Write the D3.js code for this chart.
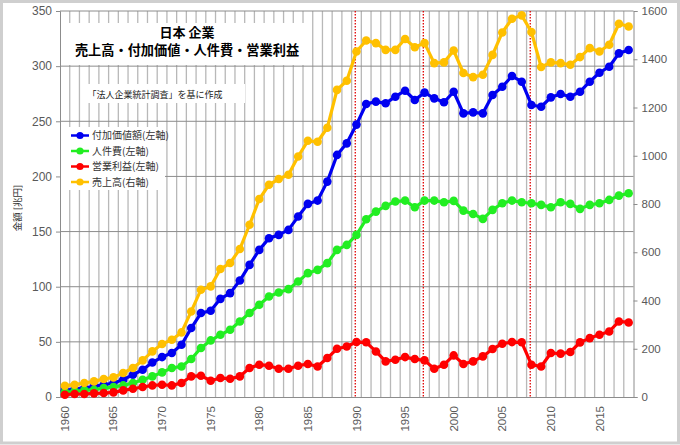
<!DOCTYPE html>
<html><head><meta charset="utf-8">
<script src="https://cdn.jsdelivr.net/npm/d3@7"></script>
<style>
html,body{margin:0;padding:0;background:#fff;}
svg{display:block;}
</style>
</head><body>
<svg id="chart" width="680" height="445"></svg>
<script>
const years = d3.range(1960, 2019);
const xTickLabels = [1960,1965,1970,1975,1980,1985,1990,1995,2000,2005,2010,2015];
const leftTicks = [0,50,100,150,200,250,300,350];
const rightTicks = [0,200,400,600,800,1000,1200,1400,1600];
const markerYears = [1990, 1997, 2008];

const valueAdded = [6,7.2,8.1,9.6,11.1,12.7,15.7,20.2,24.7,31.3,
  36.2,39.9,47.4,62.5,76.1,78.2,89,94.2,105.6,119.8,
  133.4,144,147,151.5,163.6,175.1,178.1,195.3,219.5,230,
  247,265.7,267.8,266.3,272.3,277.7,269.3,276,270.8,267.2,
  276.8,257.2,258.1,257.2,273.8,281.3,291,285.9,264.8,263.2,
  271.7,274.7,272.3,276.8,285.9,294,299.5,311.6,314.6];
const labor = [4.2,5.1,6,6.6,8.1,9.1,10.5,12.7,15.7,18.7,
  22.3,26.3,27.7,34.4,44.4,51.3,56.4,61,68.5,76.1,
  83.6,91.1,94.7,97.8,104.7,112.3,115.3,121.4,133.4,137.9,
  147,161.2,168.1,173.3,177.2,178.1,172,178.1,178.1,176.6,
  177.8,169,166,161.5,169.7,175.7,178.1,176.6,175.7,174.2,
  172,176.6,175.1,170.6,174.2,175.7,178.7,182.6,184.8];
const profit = [2.1,2.7,2.7,3.3,3.6,4.2,6,7.5,9.1,10.5,
  11.1,10.5,12.7,18.7,19.3,14.8,17.2,16.6,18.7,26.3,
  29.3,28.4,25.6,25.6,28.4,29.9,27.7,35.3,43.7,45.8,
  49.8,49.6,41.3,32.3,33.8,36.2,34.4,33.2,25.6,29.3,
  37.7,29.9,32.3,36.8,43.5,48.3,49.8,49.6,29.3,27.7,
  39.9,39.3,40.8,49.5,53.4,56.4,59.4,68.5,67.6];
const sales = [46.8,51,58,64.7,74.6,81.2,99.5,120,151.7,189,
  219.6,237.5,267.7,354.7,444.7,458.4,530.5,555.3,613.3,714,
  820.6,879.8,903.4,921.3,997,1062,1058,1116,1273,1311,
  1432,1478,1467,1439,1439,1484,1450,1467,1384,1387,
  1436,1343,1326,1336,1418,1511,1568,1582,1513,1368,
  1387,1384,1377,1409,1446,1432,1460,1547,1536];

const seriesNames = ["付加価値額(左軸)","人件費(左軸)","営業利益(左軸)","売上高(右軸)"];
const seriesColors = ["#0000f0","#22ee22","#ff0000","#ffc000"];

const svg = d3.select("#chart");
const L = 60, R = 633.5, T = 11, B = 397;
const x = d3.scaleBand().domain(years).range([L, R]).padding(0);
const bw = x.bandwidth();
const cx = yr => x(yr) + bw / 2;
const yL = d3.scaleLinear().domain([0, 350]).range([B, T]);
const yR = d3.scaleLinear().domain([0, 1600]).range([B, T]);

const numFont = "'Liberation Sans', Arial, sans-serif";
const jpFont = "'Noto Sans CJK JP', sans-serif";

// outer frame
svg.append("rect").attr("x",1.5).attr("y",1.5).attr("width",677).attr("height",441.5)
  .attr("fill","#fff").attr("stroke","#cfcfcf").attr("stroke-width",3);

// vertical gridlines at category boundaries
svg.append("g").selectAll("line").data(years.slice(1)).join("line")
  .attr("x1", d => x(d)).attr("x2", d => x(d)).attr("y1", T).attr("y2", B)
  .attr("stroke", "#b8b8b8").attr("stroke-width", 1.3);

// horizontal gridlines
svg.append("g").selectAll("line").data(leftTicks.slice(1)).join("line")
  .attr("x1", L).attr("x2", R).attr("y1", d => yL(d)).attr("y2", d => yL(d))
  .attr("stroke", "#8c8c8c").attr("stroke-width", 1);

// left axis
const gL = svg.append("g").attr("transform", `translate(${L},0)`)
  .call(d3.axisLeft(yL).tickValues(leftTicks).tickSize(4).tickPadding(4).tickFormat(d3.format("d")));
gL.selectAll("path,line").attr("stroke", "#8c8c8c");
gL.selectAll("text").attr("font-family", numFont).attr("font-size", 12).attr("fill", "#595959");

// right axis
const gR = svg.append("g").attr("transform", `translate(${R},0)`)
  .call(d3.axisRight(yR).tickValues(rightTicks).tickSize(4).tickPadding(4).tickFormat(d3.format("d")));
gR.selectAll("path,line").attr("stroke", "#8c8c8c");
gR.selectAll("text").attr("font-family", numFont).attr("font-size", 11.5).attr("fill", "#595959");

// bottom axis
const gB = svg.append("g").attr("transform", `translate(0,${B})`)
  .call(d3.axisBottom(x).tickValues(xTickLabels).tickSize(0).tickPadding(0).tickFormat(d3.format("d")));
gB.select("path").attr("stroke", "#8c8c8c");
gB.selectAll("text")
  .attr("font-family", numFont).attr("font-size", 11.5).attr("fill", "#595959")
  .attr("transform", "rotate(-90)").attr("text-anchor", "end")
  .attr("x", -9).attr("y", 0).attr("dy", "0.35em");

// red dotted markers
svg.append("g").selectAll("line").data(markerYears).join("line")
  .attr("x1", d => cx(d) - 1.2).attr("x2", d => cx(d) - 1.2).attr("y1", T).attr("y2", B)
  .attr("stroke", "#e00000").attr("stroke-width", 1.3).attr("stroke-dasharray", "1.6,1.4");

// series
const seriesData = [
  {vals: valueAdded, y: yL},
  {vals: labor, y: yL},
  {vals: profit, y: yL},
  {vals: sales, y: yR}
];
seriesData.forEach((s, i) => {
  const pts = years.map((yr, j) => [cx(yr), s.y(s.vals[j])]);
  const g = svg.append("g");
  g.append("path").attr("d", d3.line()(pts)).attr("fill", "none")
    .attr("stroke", seriesColors[i]).attr("stroke-width", 3.2).attr("stroke-linejoin", "round");
  g.selectAll("circle").data(pts).join("circle")
    .attr("cx", d => d[0]).attr("cy", d => d[1]).attr("r", 4.3).attr("fill", seriesColors[i]);
});

// title box
svg.append("rect").attr("x", L + 1).attr("y", 23).attr("width", 246).attr("height", 42).attr("fill", "#fff");
svg.append("text").attr("x", 187).attr("y", 37).attr("text-anchor", "middle")
  .attr("font-family", jpFont).attr("font-size", 13).attr("font-weight", "bold").attr("fill", "#000")
  .text("日本 企業");
svg.append("text").attr("x", 187).attr("y", 55).attr("text-anchor", "middle")
  .attr("font-family", jpFont).attr("font-size", 13.2).attr("font-weight", "bold").attr("fill", "#000")
  .text("売上高・付加価値・人件費・営業利益");

// source box
svg.append("rect").attr("x", 82).attr("y", 84).attr("width", 163).attr("height", 19).attr("fill", "#fff");
svg.append("text").attr("x", 155).attr("y", 98).attr("text-anchor", "middle")
  .attr("font-family", jpFont).attr("font-size", 9).attr("fill", "#222")
  .text("「法人企業統計調査」を基に作成");

// legend
svg.append("rect").attr("x", L + 1).attr("y", 127).attr("width", 104).attr("height", 63).attr("fill", "#fff");
const lg = svg.append("g").selectAll("g").data(seriesNames).join("g")
  .attr("transform", (d, i) => `translate(0,${135.5 + i * 15.5})`);
lg.append("line").attr("x1", 71).attr("x2", 89).attr("y1", 0).attr("y2", 0)
  .attr("stroke", (d, i) => seriesColors[i]).attr("stroke-width", 2.5);
lg.append("circle").attr("cx", 80).attr("cy", 0).attr("r", 3.6).attr("fill", (d, i) => seriesColors[i]);
lg.append("text").attr("x", 92).attr("y", 0).attr("dy", "0.35em")
  .attr("font-family", jpFont).attr("font-size", 10).attr("fill", "#333").text(d => d);

// y axis title
svg.append("text").attr("transform", "translate(18,208) rotate(-90)").attr("text-anchor", "middle")
  .attr("dy", "0.35em").attr("font-family", jpFont).attr("font-size", 9.5).attr("fill", "#333")
  .text("金額 [兆円]");
</script>
</body></html>
